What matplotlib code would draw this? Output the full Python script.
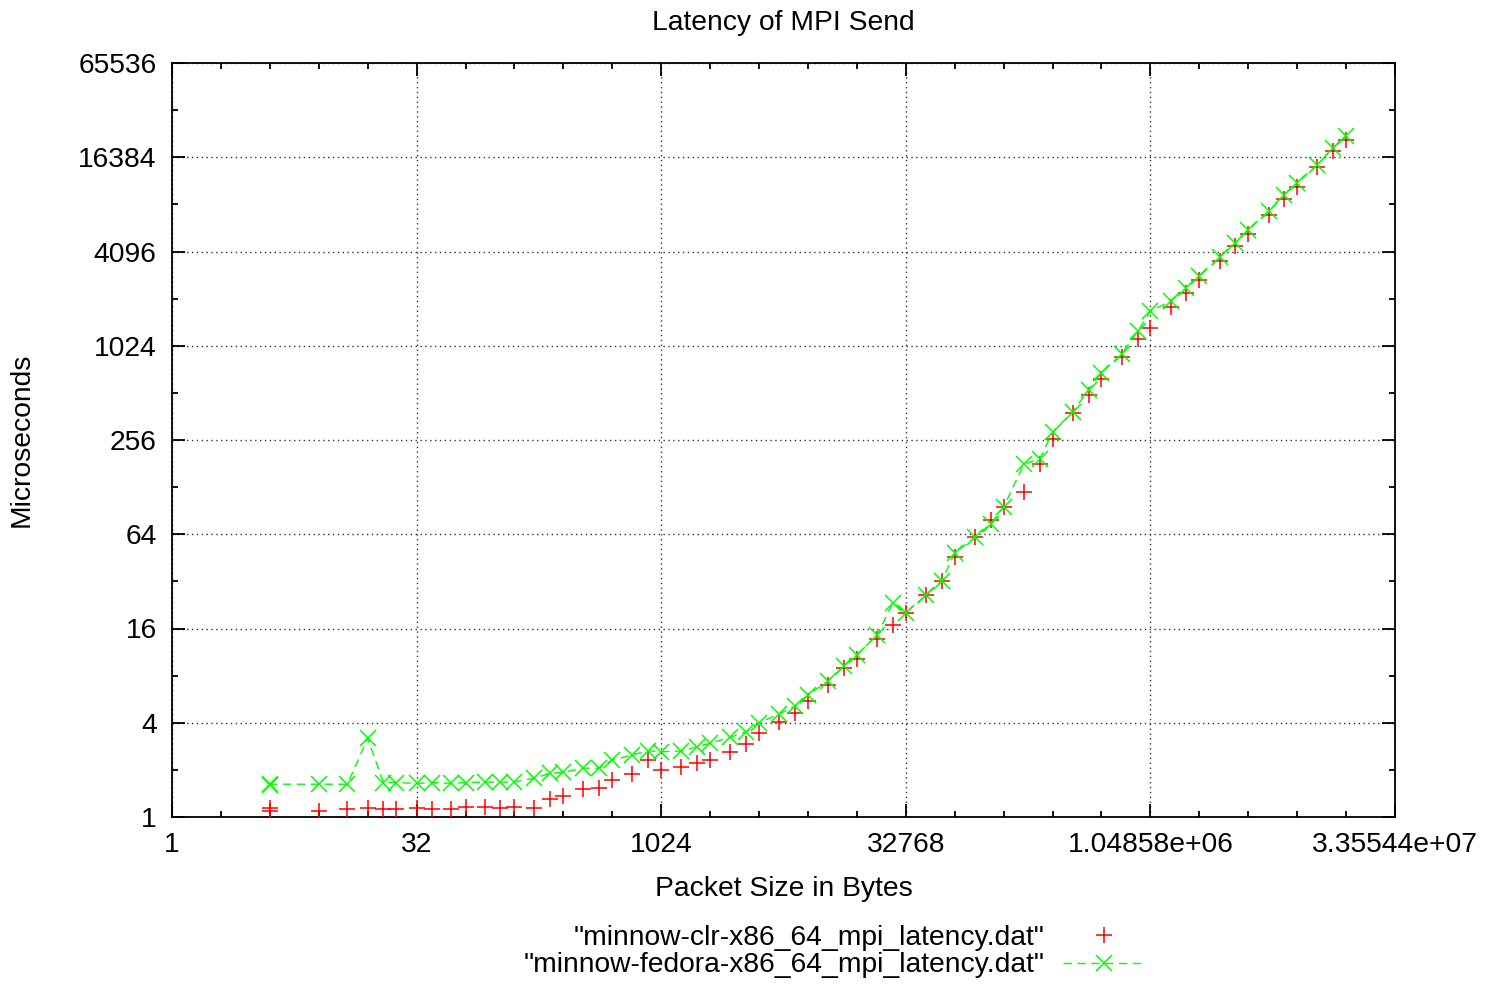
import matplotlib
matplotlib.use('Agg')
import matplotlib.pyplot as plt
from matplotlib.lines import Line2D

plt.rcParams['font.family'] = ['Liberation Sans', 'DejaVu Sans']

# Message sizes in bytes
sizes = [4, 4, 8, 12, 16, 20, 24, 32, 40, 52, 64, 84, 104, 128, 168, 212,
         256, 340, 424, 512, 680, 852, 1024, 1364, 1704, 2048, 2728, 3412,
         4096, 5460, 6824, 8192, 10920, 13652, 16384, 21844, 27304, 32768,
         43688, 54612, 65536, 87380, 109224, 131072, 174760, 218452, 262144,
         349524, 436904, 524288, 699048, 873812, 1048576, 1398100, 1747624,
         2097152, 2796200, 3495252, 4194304, 5592404, 6990504, 8388608,
         11184808, 13981012, 16777216]

# Latency in microseconds
clr_latency = [1.14, 1.10, 1.10, 1.12, 1.14, 1.12, 1.12, 1.14, 1.12, 1.12,
               1.15, 1.15, 1.14, 1.16, 1.14, 1.30, 1.36, 1.50, 1.53, 1.72,
               1.88, 2.31, 2.00, 2.08, 2.20, 2.31, 2.61, 2.93, 3.46, 4.02,
               4.64, 5.54, 6.98, 8.92, 10.2, 13.7, 16.9, 20.2, 26.1, 32.4,
               46.1, 61.3, 79.1, 95.4, 120, 180, 261, 380, 498, 632, 865,
               1125, 1329, 1804, 2233, 2677, 3541, 4415, 5323, 7039, 8871,
               10586, 14206, 17870, 21020]

fedora_latency = [1.60, 1.62, 1.62, 1.62, 3.18, 1.66, 1.66, 1.64, 1.66, 1.64,
                  1.66, 1.67, 1.67, 1.67, 1.77, 1.90, 1.93, 2.05, 2.05, 2.31,
                  2.49, 2.65, 2.61, 2.64, 2.81, 2.96, 3.23, 3.51, 4.00, 4.55,
                  5.12, 6.02, 7.43, 9.23, 10.85, 14.56, 23.4, 20.2, 26.1, 32.4,
                  48.5, 61.3, 74.6, 95.4, 180, 193, 288, 389, 536, 690, 908,
                  1264, 1696, 1980, 2380, 2839, 3777, 4640, 5646, 7389, 9449,
                  11224, 14690, 18782, 22524]

x_ticks = [1, 32, 1024, 32768, 1048576, 33554432]
x_tick_labels = ['1', '32', '1024', '32768', '1.04858e+06', '3.35544e+07']
y_ticks = [1, 4, 16, 64, 256, 1024, 4096, 16384, 65536]
y_tick_labels = ['1', '4', '16', '64', '256', '1024', '4096', '16384', '65536']
x_minor = [2 ** k for k in range(26)]
y_minor = [2 ** k for k in range(17)]

labels = ['"minnow-clr-x86_64_mpi_latency.dat"',
          '"minnow-fedora-x86_64_mpi_latency.dat"']

fs = 20.3
fig = plt.figure(figsize=(14.86, 9.85), dpi=100)
ax = fig.add_axes([172 / 1486, 1 - 817 / 985, (1395 - 172) / 1486, (817 - 63) / 985])

ax.set_xscale('log', base=2)
ax.set_yscale('log', base=2)
ax.set_xlim(1, 33554432)
ax.set_ylim(1, 65536)

ax.plot(sizes, clr_latency, linestyle='none', marker='+', color='#ff0000',
        markersize=12, markeredgewidth=1.1, zorder=3)
ax.plot(sizes, fedora_latency, linestyle='--', dashes=(6, 4), marker='x',
        color='#00ff00', linewidth=1.0, markersize=11, markeredgewidth=1.1,
        zorder=4)

# ticks and grid, gnuplot style
ax.set_xticks(x_minor, minor=True)
ax.set_yticks(y_minor, minor=True)
ax.set_xticks(x_ticks)
ax.set_xticklabels(x_tick_labels)
ax.set_yticks(y_ticks)
ax.set_yticklabels(y_tick_labels)
ax.xaxis.set_minor_formatter(matplotlib.ticker.NullFormatter())
ax.yaxis.set_minor_formatter(matplotlib.ticker.NullFormatter())
ax.tick_params(which='both', direction='in', top=True, right=True,
               width=1.3, labelsize=fs)
ax.tick_params(which='major', length=9.5)
ax.tick_params(which='minor', length=4.5)
ax.tick_params(axis='x', which='major', pad=11)
ax.tick_params(axis='y', which='major', pad=11)
ax.grid(True, which='major', linestyle=(0, (1, 2.5)), color='#333333',
        linewidth=1.0)
for s in ax.spines.values():
    s.set_linewidth(1.3)

ax.text(0.5, 1.053, 'Latency of MPI Send', transform=ax.transAxes,
        ha='center', va='center', fontsize=fs)
ax.set_xlabel('Packet Size in Bytes', fontsize=fs, va='center')
ax.xaxis.set_label_coords(0.5, -0.0955)
ax.set_ylabel('Microseconds', fontsize=fs, va='center')
ax.yaxis.set_label_coords(-0.1226, 0.5)

handles = [
    Line2D([], [], linestyle='none', marker='+', color='#ff0000',
           markersize=12, markeredgewidth=1.1),
    Line2D([], [], linestyle='--', dashes=(6, 4), marker='x', color='#00ff00',
           linewidth=1.0, markersize=11, markeredgewidth=1.1),
]
fig.legend(handles, labels, loc='upper right',
           bbox_to_anchor=(1145 / 1486, 1 - 925 / 985), frameon=False,
           markerfirst=False, fontsize=fs, handlelength=2.9,
           handletextpad=0.65, labelspacing=0.05, borderpad=0,
           borderaxespad=0)

fig.savefig('out.png', dpi=100)
